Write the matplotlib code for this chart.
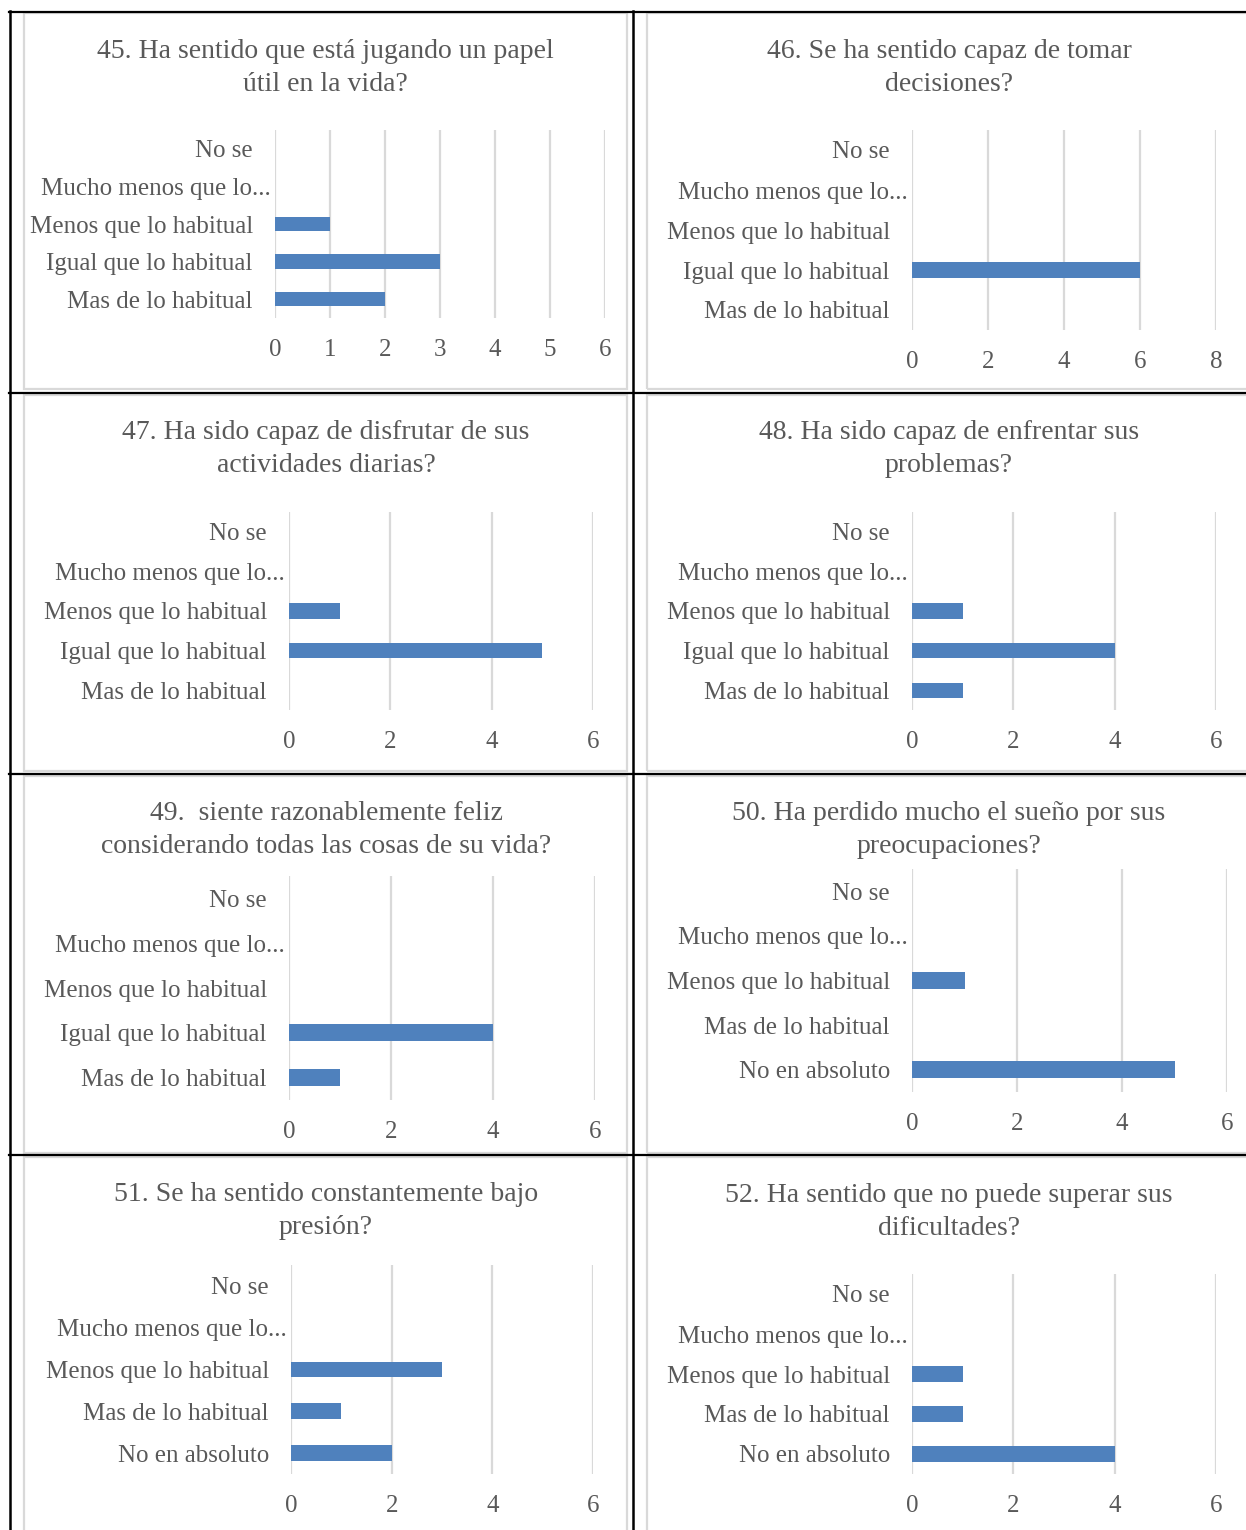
import matplotlib
matplotlib.use("Agg")
import matplotlib.pyplot as plt
from matplotlib.lines import Line2D
from matplotlib.patches import Rectangle

W, H = 1246, 1530
BAR = "#4F81BD"
GRID = "#D9D9D9"
TXT = "#595959"
FONT = "Liberation Serif"

# Category order from bottom to top (as in the spreadsheet)
cats_a = ["Mas de lo habitual", "Igual que lo habitual", "Menos que lo habitual",
          "Mucho menos que lo...", "No se"]
cats_b = ["No en absoluto", "Mas de lo habitual", "Menos que lo habitual",
          "Mucho menos que lo...", "No se"]

titles = [
    "45. Ha sentido que está jugando un papel\nútil en la vida?",
    "46. Se ha sentido capaz de tomar\ndecisiones?",
    "47. Ha sido capaz de disfrutar de sus\nactividades diarias?",
    "48. Ha sido capaz de enfrentar sus\nproblemas?",
    "49.  siente razonablemente feliz\nconsiderando todas las cosas de su vida?",
    "50. Ha perdido mucho el sueño por sus\npreocupaciones?",
    "51. Se ha sentido constantemente bajo\npresión?",
    "52. Ha sentido que no puede superar sus\ndificultades?",
]

vals_45 = [2, 3, 1, 0, 0]
vals_46 = [0, 6, 0, 0, 0]
vals_47 = [0, 5, 1, 0, 0]
vals_48 = [1, 4, 1, 0, 0]
vals_49 = [1, 4, 0, 0, 0]
vals_50 = [5, 0, 1, 0, 0]
vals_51 = [2, 1, 3, 0, 0]
vals_52 = [4, 1, 1, 0, 0]

xmax_list = [6, 8, 6, 6, 6, 6, 6, 6]
xstep_list = [1, 2, 2, 2, 2, 2, 2, 2]

charts = [
    (cats_a, vals_45), (cats_a, vals_46), (cats_a, vals_47), (cats_a, vals_48),
    (cats_a, vals_49), (cats_b, vals_50), (cats_b, vals_51), (cats_b, vals_52),
]

# pixel geometry: (x of zero, x of max, top of plot, bottom of plot, title centre x, title y)
geom = [
    (275, 605, 130, 318, 325, 68),
    (912, 1216, 130, 330, 949, 68),
    (289, 593, 512, 710, 326, 449),
    (912, 1216, 512, 710, 949, 449),
    (289, 595, 876, 1100, 326, 830),
    (912, 1227, 869, 1092, 949, 830),
    (291, 593, 1265, 1474, 326, 1211),
    (912, 1216, 1274, 1474, 949, 1212),
]

fig = plt.figure(figsize=(W / 100, H / 100), dpi=100)
fig.patch.set_facecolor("white")


def fx(x):
    return x / W


def fy(y):
    return 1 - y / H


# chart frames inside each table cell
row_tops = [13, 395, 776, 1157]
row_bots = [389, 771, 1153, 1560]
for r in range(4):
    for (xl, xr) in [(24, 627), (647, 1260)]:
        fig.patches.append(Rectangle((fx(xl), fy(row_bots[r])), fx(xr) - fx(xl),
                                     fy(row_tops[r]) - fy(row_bots[r]),
                                     transform=fig.transFigure, fill=False,
                                     edgecolor=GRID, linewidth=1.6, zorder=1))

# table rules
for y in [12, 393, 774, 1155]:
    fig.add_artist(Line2D([fx(9), fx(1246)], [fy(y), fy(y)], color="black",
                          linewidth=1.6, transform=fig.transFigure, zorder=5))
for x in [10, 633]:
    fig.add_artist(Line2D([fx(x), fx(x)], [fy(11), fy(1530)], color="black",
                          linewidth=1.8, transform=fig.transFigure, zorder=5))

for i, ((cats, vals), (x0, x1, yt, yb, tcx, ty)) in enumerate(zip(charts, geom)):
    ax = fig.add_axes([fx(x0), fy(yb), fx(x1) - fx(x0), fy(yt) - fy(yb)])
    ypos = list(range(len(cats)))
    ax.barh(ypos, vals, height=0.38, color=BAR, zorder=3)
    ax.set_xlim(0, xmax_list[i])
    ax.set_ylim(-0.5, len(cats) - 0.5)
    ax.set_xticks(range(0, xmax_list[i] + 1, xstep_list[i]))
    ax.set_yticks(ypos)
    ax.set_yticklabels(cats)
    for s in ax.spines.values():
        s.set_visible(False)
    ax.grid(axis="x", color=GRID, linewidth=1.6, zorder=0)
    ax.set_axisbelow(True)
    ax.tick_params(axis="both", length=0, labelsize=18, labelcolor=TXT)
    ax.tick_params(axis="y", pad=16)
    ax.tick_params(axis="x", pad=15)
    # the truncated category label sits closer to the axis
    ax.yaxis.get_major_ticks()[3].set_pad(3)
    for lab in ax.get_xticklabels() + ax.get_yticklabels():
        lab.set_fontfamily(FONT)
    ax.patch.set_alpha(0)
    fig.text(fx(tcx), fy(ty), titles[i], ha="center", va="center",
             fontsize=20, color=TXT, family=FONT, linespacing=1.4)

fig.savefig("out.png", dpi=100, facecolor="white")
